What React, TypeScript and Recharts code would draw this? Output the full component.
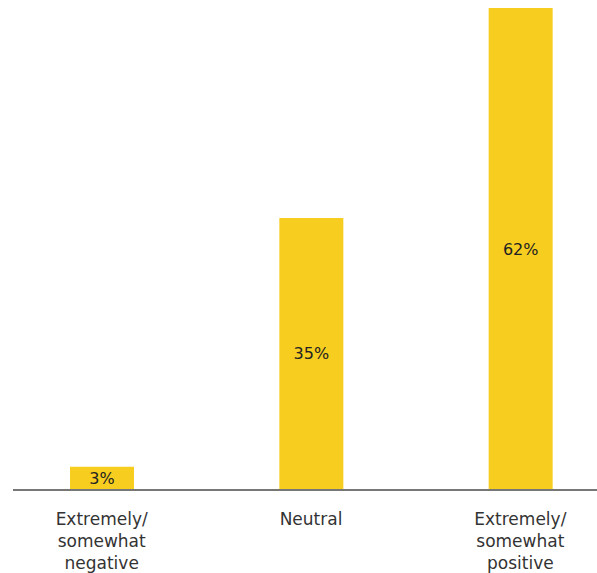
import React from "react";
import { BarChart, Bar, XAxis, YAxis, LabelList } from "recharts";

const categories = ["Extremely/\nsomewhat\nnegative", "Neutral", "Extremely/\nsomewhat\npositive"];
const shares = [3, 35, 62];

const data = categories.map((name, i) => ({ name, value: shares[i] }));

const FONT = "'DejaVu Sans', sans-serif";

const CategoryTick = ({ x, y, payload }: any) => {
  const lines = String(payload.value).split("\n");
  return (
    <text x={x} y={y} textAnchor="middle" fontFamily={FONT} fontSize={17} fill="#333">
      {lines.map((line: string, i: number) => (
        <tspan key={i} x={x} y={y + 27 + i * 22}>
          {line}
        </tspan>
      ))}
    </text>
  );
};

const ValueLabel = ({ x, y, width, height, value }: any) => (
  <text
    x={x + width / 2}
    y={y + height / 2}
    textAnchor="middle"
    dominantBaseline="central"
    fontFamily={FONT}
    fontSize={16}
    fill="#222"
  >
    {value}%
  </text>
);

export default function App() {
  return (
    <div style={{ position: "absolute", left: 0, top: 0, background: "#fff" }}>
      <BarChart
        width={597}
        height={573}
        data={data}
        margin={{ top: 8, right: 0, bottom: 0, left: 13 }}
      >
        <XAxis
          dataKey="name"
          interval={0}
          height={83}
          tickLine={false}
          axisLine={{ stroke: "#777", strokeWidth: 2 }}
          padding={{ left: -16, right: -28 }}
          tick={<CategoryTick />}
        />
        <YAxis hide domain={[0, 62]} />
        <Bar dataKey="value" fill="#F7CE20" barSize={64} isAnimationActive={false}>
          <LabelList dataKey="value" content={<ValueLabel />} />
        </Bar>
      </BarChart>
    </div>
  );
}
